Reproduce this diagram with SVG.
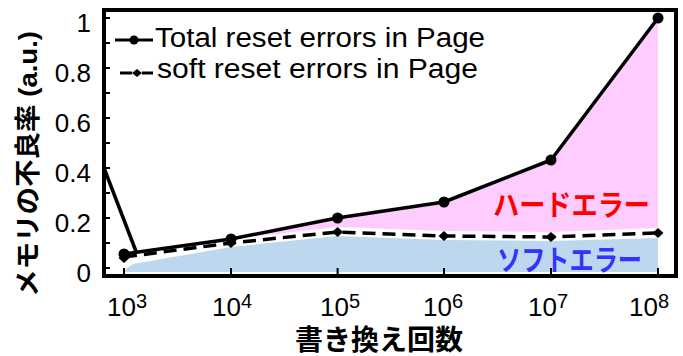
<svg xmlns="http://www.w3.org/2000/svg" width="683" height="356" viewBox="0 0 683 356">
<style>
.num{font-family:"Liberation Sans",Arial,sans-serif;font-size:26px;fill:#000}
.leg{font-family:"Liberation Sans",Arial,sans-serif;font-size:27px;fill:#000}
.jp{font-family:"Liberation Sans","Noto Sans CJK JP",sans-serif;font-weight:bold;fill:#000}
.kana{font-family:"Noto Sans CJK JP",sans-serif;font-size:29px;font-weight:bold}
.total{fill:none;stroke:#000;stroke-width:3.5;stroke-linejoin:round}
.soft{fill:none;stroke:#000;stroke-width:3.5;stroke-dasharray:13 7}
.tick{stroke:#000;stroke-width:2}
</style>
<defs>
<circle id="dot" r="5.5" fill="#000"/>
<path id="dia" d="M0,-5 L5.5,0 L0,5 L-5.5,0 Z" fill="#000"/>
</defs>
<rect width="683" height="356" fill="#fff"/>
<g id="fills">
<polygon fill="#bdd7ee" points="124,272 124,270 133,264 231,247 337,236 444,240 551,241 658,238 658,272"/>
<polygon fill="#ffccff" points="231,239 337,218 444,202 551,160 658,18 658,228 551,232 444,231 337,227"/>
</g>
<g id="axes">
<rect x="104" y="10" width="572" height="266" fill="none" stroke="#000" stroke-width="4"/>
<path class="tick" d="M104,268h6M104,243h6M104,218h6M104,193h6M104,168h6M104,143h6M104,118h6M104,93h6M104,68h6M104,43h6M104,18h6"/>
<path class="tick" d="M124,268v8M231,268v8M337.6,268v8M444,268v8M551,268v8M658,268v8"/>
</g>
<g id="ylabels" class="num" text-anchor="end">
<text x="91" y="281.5">0</text>
<text x="91" y="231.5">0.2</text>
<text x="91" y="181.5">0.4</text>
<text x="91" y="131.5">0.6</text>
<text x="91" y="81.5">0.8</text>
<text x="91" y="31.5">1</text>
</g>
<g id="xlabels" class="num" text-anchor="middle">
<text x="127" y="316">10<tspan dy="-8" font-size="20">3</tspan></text>
<text x="232" y="316">10<tspan dy="-8" font-size="20">4</tspan></text>
<text x="340" y="316">10<tspan dy="-8" font-size="20">5</tspan></text>
<text x="443" y="316">10<tspan dy="-8" font-size="20">6</tspan></text>
<text x="548" y="316">10<tspan dy="-8" font-size="20">7</tspan></text>
<text x="649" y="316">10<tspan dy="-8" font-size="20">8</tspan></text>
</g>
<g id="connectors">
<polyline class="total" points="104,168 137,254"/>
<polyline class="total" points="124,254 231,239 337,218 444,202 551,160 658,18"/>
<polyline class="soft" points="124,257 231,243 337,232 444,236 551,237 658,233"/>
</g>
<g id="total-markers">
<use href="#dot" x="124" y="254"/>
<use href="#dot" x="231" y="239"/>
<use href="#dot" x="337.6" y="218"/>
<use href="#dot" x="444" y="202"/>
<use href="#dot" x="551" y="160"/>
<use href="#dot" x="658" y="18"/>
</g>
<g id="soft-markers">
<use href="#dia" x="124" y="258"/>
<use href="#dia" x="231" y="243"/>
<use href="#dia" x="337.6" y="232"/>
<use href="#dia" x="444" y="236"/>
<use href="#dia" x="551" y="237"/>
<use href="#dia" x="658" y="233"/>
</g>
<g id="legend">
<line x1="115" y1="40" x2="153" y2="40" stroke="#000" stroke-width="3"/>
<circle cx="134" cy="40" r="4.5" fill="#000"/>
<path d="M120,73h12M142,73h11" stroke="#000" stroke-width="3"/>
<path d="M137,69 L142,73 L137,77 L132,73 Z" fill="#000"/>
<text class="leg" x="155" y="47" textLength="330" lengthAdjust="spacingAndGlyphs">Total reset errors in Page</text>
<text class="leg" x="157" y="78" textLength="321" lengthAdjust="spacingAndGlyphs">soft reset errors in Page</text>
</g>
<g id="region-labels">
<text class="kana" x="493" y="216" fill="#ff0000" textLength="157" lengthAdjust="spacingAndGlyphs">ハードエラー</text>
<text class="kana" x="497" y="271" fill="#3333ff" textLength="145" lengthAdjust="spacingAndGlyphs">ソフトエラー</text>
</g>
<g id="titles">
<text class="jp" x="379" y="350" font-size="28" text-anchor="middle">書き換え回数</text>
<text class="jp" transform="translate(37,164) rotate(-90)" font-size="26" text-anchor="middle" textLength="266" lengthAdjust="spacingAndGlyphs">メモリの不良率 (a.u.)</text>
</g>
</svg>
